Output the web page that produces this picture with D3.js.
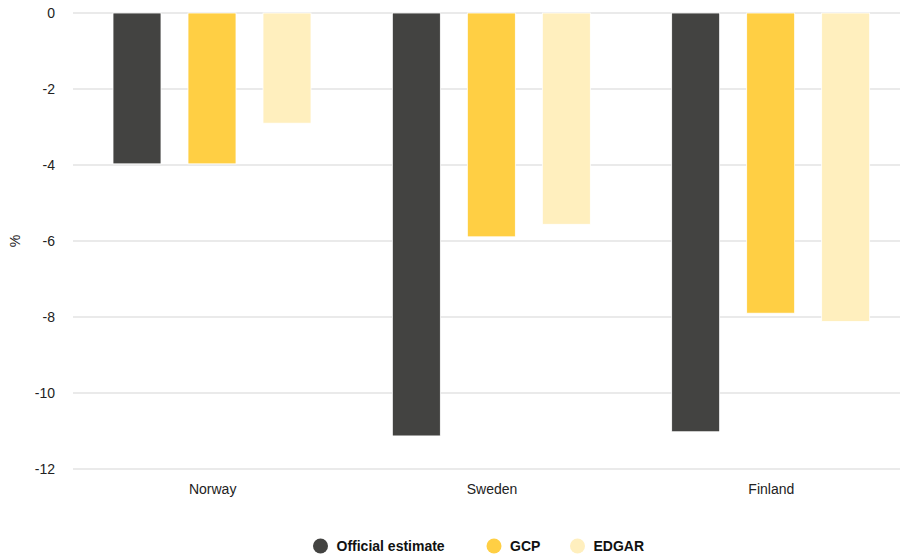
<!DOCTYPE html>
<html>
<head>
<meta charset="utf-8">
<script src="https://cdn.jsdelivr.net/npm/d3@7/dist/d3.min.js"></script>
<style>
  html, body { margin: 0; padding: 0; background: #fff; }
  svg { display: block; font-family: "Liberation Sans", Arial, sans-serif; }
</style>
</head>
<body>
<svg id="chart" width="900" height="560"></svg>
<script>
// Change in emissions (%) by country and source
const countries = ["Norway", "Sweden", "Finland"];
const seriesNames = ["Official estimate", "GCP", "EDGAR"];
const officialValues = [-3.97, -11.13, -11.02];
const gcpValues = [-3.97, -5.89, -7.9];
const edgarValues = [-2.9, -5.56, -8.12];
const yTicks = [0, -2, -4, -6, -8, -10, -12];
const colors = ["#434341", "#FFCF44", "#FFEFBE"];

const seriesValues = [officialValues, gcpValues, edgarValues];
const rows = countries.map((c, i) => ({
  country: c,
  values: seriesNames.map((s, j) => ({ series: s, value: seriesValues[j][i] }))
}));

const svg = d3.select("#chart");
const margin = { left: 73, top: 13, right: -11, bottom: 91 };
const W = 900, H = 560;

const x0 = d3.scaleBand().domain(countries).range([margin.left, W - margin.right]).paddingInner(0).paddingOuter(0);
const x1 = d3.scaleBand().domain(seriesNames).range([40, 238]).paddingInner(27 / 75).paddingOuter(0);
const y = d3.scaleLinear().domain([0, -12]).range([margin.top, H - margin.bottom]);

// Horizontal gridlines
svg.append("g")
  .selectAll("line")
  .data(yTicks)
  .join("line")
  .attr("x1", margin.left)
  .attr("x2", W)
  .attr("y1", d => y(d))
  .attr("y2", d => y(d))
  .attr("stroke", "#e3e3e3")
  .attr("stroke-width", 1.5);

// Y axis tick labels
svg.append("g")
  .selectAll("text")
  .data(yTicks)
  .join("text")
  .attr("x", 55)
  .attr("y", d => y(d))
  .attr("dy", "0.35em")
  .attr("text-anchor", "end")
  .attr("font-size", 14)
  .attr("fill", "#222")
  .text(d => d);

// Y axis title
svg.append("text")
  .attr("transform", `translate(20, ${y(-6)}) rotate(-90)`)
  .attr("text-anchor", "middle")
  .attr("font-size", 14)
  .attr("fill", "#222")
  .text("%");

// Bars
const groups = svg.append("g")
  .selectAll("g")
  .data(rows)
  .join("g")
  .attr("transform", d => `translate(${x0(d.country)},0)`);

groups.selectAll("rect")
  .data(d => d.values)
  .join("rect")
  .attr("x", d => x1(d.series))
  .attr("width", x1.bandwidth())
  .attr("y", d => y(Math.max(0, d.value)))
  .attr("height", d => Math.abs(y(d.value) - y(0)))
  .attr("fill", (d, i) => colors[i])
  .attr("stroke", "#fff")
  .attr("stroke-width", 0.8);

// Category labels
svg.append("g")
  .selectAll("text")
  .data(countries)
  .join("text")
  .attr("x", d => x0(d) + x0.bandwidth() / 2)
  .attr("y", 494)
  .attr("text-anchor", "middle")
  .attr("font-size", 14)
  .attr("fill", "#222")
  .text(d => d);

// Legend
const legendX = [320.5, 494, 577.5];
const legend = svg.append("g")
  .selectAll("g")
  .data(seriesNames)
  .join("g")
  .attr("transform", (d, i) => `translate(${legendX[i]}, 546)`);
legend.append("circle").attr("r", 7.5).attr("fill", (d, i) => colors[i]);
legend.append("text")
  .attr("x", 16)
  .attr("dy", "0.35em")
  .attr("font-size", 14)
  .attr("font-weight", "bold")
  .attr("fill", "#111")
  .text(d => d);
</script>
</body>
</html>
